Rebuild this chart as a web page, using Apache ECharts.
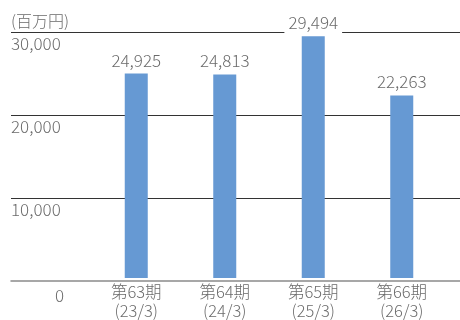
<!DOCTYPE html>
<html><head><meta charset="utf-8">
<script src="https://cdn.jsdelivr.net/npm/echarts@6/dist/echarts.min.js"></script>
<style>html,body{margin:0;padding:0;background:#fff}#c{width:460px;height:320px}</style>
</head><body><div id="c"></div>
<script>
const categories = ['第63期\n(23/3)', '第64期\n(24/3)', '第65期\n(25/3)', '第66期\n(26/3)'];
const values = [24925, 24813, 29494, 22263];
const yTicks = [0, 10000, 20000, 30000];
const unitLabel = '(百万円)';

const FONT = '"Noto Sans CJK JP", "Noto Sans", sans-serif';
const TXT = '#6b6b6b';
const W = 300;
const fmt = v => v.toLocaleString('en-US');

const chart = echarts.init(document.getElementById('c'), null, {renderer: 'canvas'});
chart.setOption({
  animation: false,
  textStyle: {fontFamily: FONT},
  grid: [
    {left: 11, right: 0, top: 32, bottom: 39},
    {left: 92, right: 14, top: 32, bottom: 39}
  ],
  xAxis: [
    {gridIndex: 0, type: 'value', min: 0, max: 1, show: true,
     axisLine: {show: true, onZero: false, lineStyle: {color: '#8a8a8a', width: 1.5}},
     axisTick: {show: false}, axisLabel: {show: false}, splitLine: {show: false}},
    {gridIndex: 1, type: 'category', data: categories,
     axisLine: {show: false}, axisTick: {show: false},
     axisLabel: {color: TXT, fontSize: 16.5, fontWeight: W, lineHeight: 19, margin: 4, fontFamily: FONT}}
  ],
  yAxis: [
    {gridIndex: 0, type: 'value', min: yTicks[0], max: yTicks[yTicks.length - 1], interval: 10000,
     axisLine: {show: false}, axisTick: {show: false},
     name: unitLabel, nameLocation: 'end', nameGap: 11,
     nameTextStyle: {color: TXT, fontSize: 16, fontWeight: W, align: 'left', verticalAlign: 'middle', fontFamily: FONT},
     splitLine: {show: true, lineStyle: {color: ['transparent', '#333', '#333', '#333'], width: 1}},
     axisLabel: {inside: true, margin: 0, align: 'left', verticalAlign: 'top', color: TXT,
       fontSize: 17, fontWeight: W, lineHeight: 23, fontFamily: FONT,
       formatter: v => v === 0 ? '{z|0}' : fmt(v),
       rich: {z: {width: 53, align: 'right', lineHeight: 30, fontSize: 17, fontWeight: W, color: TXT, fontFamily: FONT}}}},
    {gridIndex: 1, type: 'value', min: 0, max: 30000, show: false}
  ],
  series: [{
    type: 'bar', xAxisIndex: 1, yAxisIndex: 1, data: values, barWidth: 23,
    itemStyle: {color: '#6699d3'},
    label: {show: true, position: 'top', distance: 3, color: TXT, fontSize: 17, fontWeight: W, fontFamily: FONT,
      backgroundColor: '#fff', padding: [2, 4, 2, 4], formatter: p => fmt(p.value)}
  }]
});
</script></body></html>
